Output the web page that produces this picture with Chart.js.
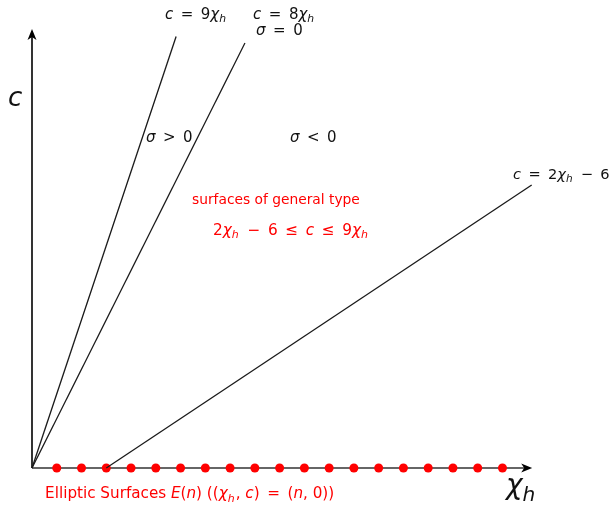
<!DOCTYPE html>
<html>
<head>
<meta charset="utf-8">
<script src="https://cdn.jsdelivr.net/npm/chart.js@4.4.0/dist/chart.umd.min.js"></script>
<style>
  body { margin: 0; background: #fff; }
  #wrap { width: 613px; height: 507px; }
</style>
</head>
<body>
<div id="wrap"><canvas id="myChart"></canvas></div>
<script>
// elliptic surfaces E(n) sit on the chi axis at n = 1..19
const ellipticN = [1, 2, 3, 4, 5, 6, 7, 8, 9, 10, 11, 12, 13, 14, 15, 16, 17, 18, 19]

// boundary lines, [chi, c] end points
const line9 = [[0, 0], [5.82, 52.6]]
const line8 = [[0, 0], [8.6, 51.8]]
const line2 = [[3, 0], [20.18, 34.5]]

// axis extents (arrow tips)
const chiMax = 20.2
const cMax = 53.5

const toPts = arr => arr.map(p => ({x: p[0], y: p[1]}))

const lineStyle = {
    showLine: true,
    borderColor: '#1a1a1a',
    borderWidth: 1.3,
    pointRadius: 0,
    pointHoverRadius: 0,
    clip: false
}

const data = {
    datasets: [
        Object.assign({label: 'c = 9chi', data: toPts(line9)}, lineStyle),
        Object.assign({label: 'c = 8chi', data: toPts(line8)}, lineStyle),
        Object.assign({label: 'c = 2chi - 6', data: toPts(line2)}, lineStyle),
        {
            label: 'E(n)',
            data: ellipticN.map(n => ({x: n, y: 0})),
            showLine: false,
            pointRadius: 4.5,
            pointBackgroundColor: '#ff0000',
            pointBorderWidth: 0,
            clip: false
        }
    ]
}

// text pieces: i = italic, s = subscript
const mathFont = '"DejaVu Sans", sans-serif'
const SP = '\u2002'
const labels = [
    {x: 5.37, y: 55.2, size: 15, color: '#111', parts: [{t: 'c', i: 1}, {t: SP + '=' + SP + '9'}, {t: 'χ', i: 1}, {t: 'h', i: 1, s: 1}]},
    {x: 8.93, y: 55.2, size: 15, color: '#111', parts: [{t: 'c', i: 1}, {t: SP + '=' + SP + '8'}, {t: 'χ', i: 1}, {t: 'h', i: 1, s: 1}]},
    {x: 9.05, y: 53.2, size: 15, color: '#111', parts: [{t: 'σ', i: 1}, {t: SP + '=' + SP + '0'}]},
    {x: 4.6, y: 40.2, size: 15, color: '#111', parts: [{t: 'σ', i: 1}, {t: SP + '>' + SP + '0'}]},
    {x: 10.42, y: 40.2, size: 15, color: '#111', parts: [{t: 'σ', i: 1}, {t: SP + '<' + SP + '0'}]},
    {x: 19.43, y: 35.7, size: 14.6, color: '#111', parts: [{t: 'c', i: 1}, {t: SP + '=' + SP + '2'}, {t: 'χ', i: 1}, {t: 'h', i: 1, s: 1}, {t: SP + '−' + SP + '6'}]},
    {x: 6.46, y: 32.6, size: 13.8, color: '#ff0000', parts: [{t: 'surfaces of general type'}]},
    {x: 7.31, y: 28.9, size: 15.3, color: '#ff0000', parts: [{t: '2'}, {t: 'χ', i: 1}, {t: 'h', i: 1, s: 1}, {t: SP + '−' + SP + '6' + SP + '≤' + SP}, {t: 'c', i: 1}, {t: SP + '≤' + SP + '9'}, {t: 'χ', i: 1}, {t: 'h', i: 1, s: 1}]},
    {x: 0.53, y: -3.2, size: 15.2, color: '#ff0000', parts: [{t: 'Elliptic Surfaces '}, {t: 'E', i: 1}, {t: '('}, {t: 'n', i: 1}, {t: ') (('}, {t: 'χ', i: 1}, {t: 'h', i: 1, s: 1}, {t: ', '}, {t: 'c', i: 1}, {t: ')' + SP + '=' + SP + '('}, {t: 'n', i: 1}, {t: ', 0))'}]},
    {x: -0.97, y: 44.9, size: 26, color: '#111', parts: [{t: 'c', i: 1}]},
    {x: 19.14, y: -2.3, size: 28, color: '#111', parts: [{t: 'χ', i: 1}, {t: 'h', i: 1, s: 1}]}
]

function drawRich(ctx, lbl, px, py) {
    let x = px
    for (let p of lbl.parts) {
        let size = p.s ? lbl.size * 0.72 : lbl.size
        ctx.font = (p.i ? 'italic ' : '') + size + 'px ' + mathFont
        ctx.fillStyle = lbl.color
        ctx.textBaseline = 'middle'
        ctx.textAlign = 'left'
        let dy = p.s ? lbl.size * 0.3 : 0
        ctx.fillText(p.t, x, py + dy)
        x += ctx.measureText(p.t).width + (p.s ? 1 : 0)
    }
}

function arrowHead(ctx, x, y, angle) {
    ctx.save()
    ctx.translate(x, y)
    ctx.rotate(angle)
    ctx.beginPath()
    ctx.moveTo(0, 0)
    ctx.lineTo(-11, -4.5)
    ctx.lineTo(-8, 0)
    ctx.lineTo(-11, 4.5)
    ctx.closePath()
    ctx.fillStyle = '#000'
    ctx.fill()
    ctx.restore()
}

// axes with arrows under the datasets, text on top
const axesPlugin = {
    id: 'arrowAxes',
    beforeDatasetsDraw(chart) {
        const ctx = chart.ctx
        const xs = chart.scales.x
        const ys = chart.scales.y
        const x0 = xs.getPixelForValue(0)
        const y0 = ys.getPixelForValue(0)
        const xEnd = xs.getPixelForValue(chiMax)
        const yEnd = ys.getPixelForValue(cMax)
        ctx.save()
        ctx.lineWidth = 2.2
        ctx.strokeStyle = '#666'
        ctx.beginPath()
        ctx.moveTo(x0, y0)
        ctx.lineTo(xEnd - 8, y0)
        ctx.stroke()
        ctx.lineWidth = 1.6
        ctx.strokeStyle = '#000'
        ctx.beginPath()
        ctx.moveTo(x0, y0)
        ctx.lineTo(x0, yEnd + 8)
        ctx.stroke()
        arrowHead(ctx, xEnd, y0, 0)
        arrowHead(ctx, x0, yEnd, -Math.PI / 2)
        ctx.restore()
    },
    afterDatasetsDraw(chart) {
        const ctx = chart.ctx
        const xs = chart.scales.x
        const ys = chart.scales.y
        ctx.save()
        for (let l of labels) {
            drawRich(ctx, l, xs.getPixelForValue(l.x), ys.getPixelForValue(l.y))
        }
        ctx.restore()
    }
}

const config = {
    type: 'scatter',
    data: data,
    options: {
        responsive: true,
        maintainAspectRatio: false,
        animation: false,
        layout: {
            padding: {left: 32, right: 61, top: 25, bottom: 39}
        },
        scales: {
            x: {type: 'linear', min: 0, max: 21, display: false},
            y: {type: 'linear', min: 0, max: 54, display: false}
        },
        plugins: {
            legend: {display: false},
            tooltip: {enabled: false}
        }
    },
    plugins: [axesPlugin]
}

const myChart = new Chart(document.getElementById('myChart'), config)
</script>
</body>
</html>
